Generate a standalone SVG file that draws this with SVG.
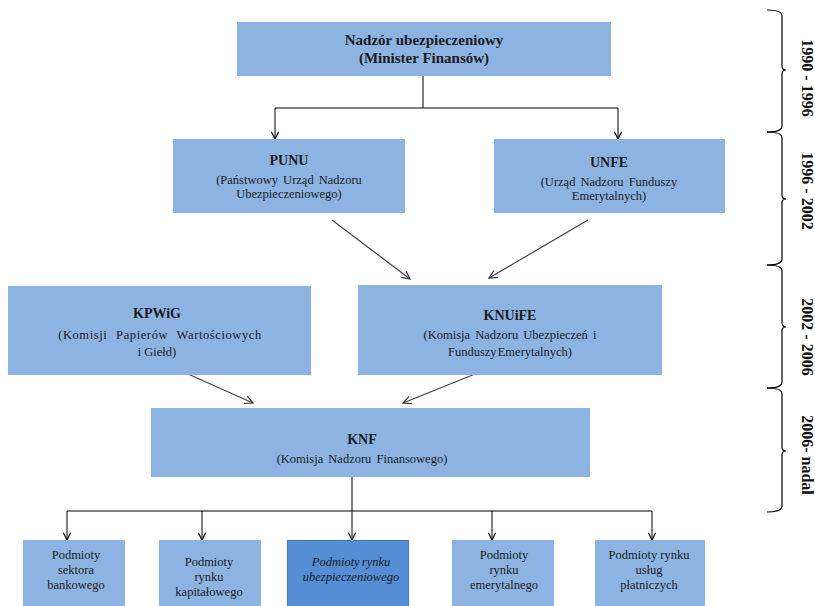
<svg xmlns="http://www.w3.org/2000/svg" width="815" height="606" viewBox="0 0 815 606">
  <style>
    .box { fill: #8db3e2; }
    .box-dark { fill: #558ed5; stroke: #4277bb; stroke-width: 1; }
    text { font-family: "Liberation Serif", "Times New Roman", serif; fill: #1c1c1c; text-anchor: middle; }
    .t { font-size: 14px; font-weight: bold; }
    .t-top { font-size: 15px; font-weight: bold; }
    .s { font-size: 12.5px; }
    .b { font-size: 12.5px; }
    .bi { font-size: 12.5px; font-style: italic; }
    .era { font-size: 16px; font-weight: bold; fill: #111; }
    .conn { fill: none; stroke: #000; stroke-width: 1; }
    .diag { fill: none; stroke: #404040; stroke-width: 1.2; }
    .brace { fill: none; stroke: #000; stroke-width: 1.2; }
  </style>
  <defs>
    <marker id="arrow" viewBox="0 0 10 10" refX="9" refY="5" markerWidth="9" markerHeight="9" markerUnits="userSpaceOnUse" orient="auto">
      <path d="M1,1 L9,5 L1,9" fill="none" stroke="#000" stroke-width="1.2"/>
    </marker>
    <marker id="arrow-g" viewBox="0 0 10 10" refX="9" refY="5" markerWidth="10" markerHeight="10" markerUnits="userSpaceOnUse" orient="auto">
      <path d="M1,1 L9,5 L1,9" fill="none" stroke="#333" stroke-width="1.2"/>
    </marker>
  </defs>

  <rect width="815" height="606" fill="#fff"/>

  <!-- connectors -->
  <g id="connectors">
    <path class="conn" d="M423,76 V108 M275,108 H618"/>
    <path class="conn" d="M275,108 V139" marker-end="url(#arrow)"/>
    <path class="conn" d="M618,108 V139" marker-end="url(#arrow)"/>
    <path class="diag" d="M332,220 L410,279" marker-end="url(#arrow-g)"/>
    <path class="diag" d="M588,220 L489,278" marker-end="url(#arrow-g)"/>
    <path class="diag" d="M188,374 L253,403" marker-end="url(#arrow-g)"/>
    <path class="diag" d="M475,374 L403,403" marker-end="url(#arrow-g)"/>
    <path class="conn" d="M352,477 V511 M67,511 H652"/>
    <path class="conn" d="M67,511 V540" marker-end="url(#arrow)"/>
    <path class="conn" d="M202,511 V540" marker-end="url(#arrow)"/>
    <path class="conn" d="M352,511 V540" marker-end="url(#arrow)"/>
    <path class="conn" d="M492,511 V540" marker-end="url(#arrow)"/>
    <path class="conn" d="M652,511 V540" marker-end="url(#arrow)"/>
  </g>

  <g id="nadzor">
    <rect class="box" x="237" y="22" width="374" height="54"/>
    <text class="t-top" x="424" y="45">Nadzór ubezpieczeniowy</text>
    <text class="t-top" x="424" y="63">(Minister Finansów)</text>
  </g>

  <g id="punu">
    <rect class="box" x="173" y="139" width="232" height="74"/>
    <text class="t" x="289" y="165">PUNU</text>
    <text class="s" x="289" y="184" word-spacing="2">(Państwowy Urząd Nadzoru</text>
    <text class="s" x="289" y="198">Ubezpieczeniowego)</text>
  </g>

  <g id="unfe">
    <rect class="box" x="494" y="139" width="231" height="74"/>
    <text class="t" x="609" y="167">UNFE</text>
    <text class="s" x="609" y="186" word-spacing="2">(Urząd Nadzoru Funduszy</text>
    <text class="s" x="609" y="200">Emerytalnych)</text>
  </g>

  <g id="kpwig">
    <rect class="box" x="8" y="286" width="303" height="89"/>
    <text class="t" x="157" y="318">KPWiG</text>
    <text class="s" x="160" y="339" word-spacing="5" letter-spacing="0.6">(Komisji Papierów Wartościowych</text>
    <text class="s" x="157" y="356">i Giełd)</text>
  </g>

  <g id="knuife">
    <rect class="box" x="358" y="285" width="304" height="90"/>
    <text class="t" x="510" y="320">KNUiFE</text>
    <text class="s" x="510" y="339" word-spacing="2">(Komisja Nadzoru Ubezpieczeń i</text>
    <text class="s" x="510" y="356" word-spacing="-2">Funduszy Emerytalnych)</text>
  </g>

  <g id="knf">
    <rect class="box" x="151" y="408" width="439" height="69"/>
    <text class="t" x="362" y="444">KNF</text>
    <text class="s" x="362" y="463" word-spacing="2">(Komisja Nadzoru Finansowego)</text>
  </g>

  <g id="bankowy">
    <rect class="box" x="23" y="540" width="102" height="70"/>
    <text class="b" x="76" y="559">Podmioty</text>
    <text class="b" x="76" y="574">sektora</text>
    <text class="b" x="76" y="589">bankowego</text>
  </g>

  <g id="kapitalowy">
    <rect class="box" x="159" y="540" width="102" height="70"/>
    <text class="b" x="209" y="566">Podmioty</text>
    <text class="b" x="209" y="581">rynku</text>
    <text class="b" x="209" y="596">kapitałowego</text>
  </g>

  <g id="ubezpieczeniowy">
    <rect class="box-dark" x="287.5" y="540.5" width="121" height="70"/>
    <text class="bi" x="351" y="566" word-spacing="-1">Podmioty rynku</text>
    <text class="bi" x="351" y="581">ubezpieczeniowego</text>
  </g>

  <g id="emerytalny">
    <rect class="box" x="452" y="540" width="102" height="70"/>
    <text class="b" x="504" y="559">Podmioty</text>
    <text class="b" x="504" y="574">rynku</text>
    <text class="b" x="504" y="589">emerytalnego</text>
  </g>

  <g id="platniczy">
    <rect class="box" x="595" y="540" width="110" height="70"/>
    <text class="b" x="649" y="559">Podmioty rynku</text>
    <text class="b" x="649" y="574">usług</text>
    <text class="b" x="649" y="589">płatniczych</text>
  </g>

  <!-- timeline braces -->
  <g id="timeline">
    <path class="brace" d="M767,10 Q782,10 782,16 V66 Q782,70 786,70 Q782,70 782,74 V126 Q782,132 767,132"/>
    <path class="brace" d="M767,132 Q782,132 782,138 V195 Q782,199 786,199 Q782,199 782,203 V259 Q782,265 767,265"/>
    <path class="brace" d="M767,265 Q782,265 782,271 V322 Q782,327 786,327 Q782,327 782,331 V382 Q782,388 767,388"/>
    <path class="brace" d="M767,388 Q782,388 782,394 V447 Q782,451 786,451 Q782,451 782,455 V506 Q782,512 767,512"/>
    <text class="era" transform="translate(802,78) rotate(90)">1990 - 1996</text>
    <text class="era" transform="translate(802,191) rotate(90)">1996 - 2002</text>
    <text class="era" transform="translate(802,337) rotate(90)">2002 - 2006</text>
    <text class="era" transform="translate(802,455) rotate(90)">2006- nadal</text>
  </g>
</svg>
